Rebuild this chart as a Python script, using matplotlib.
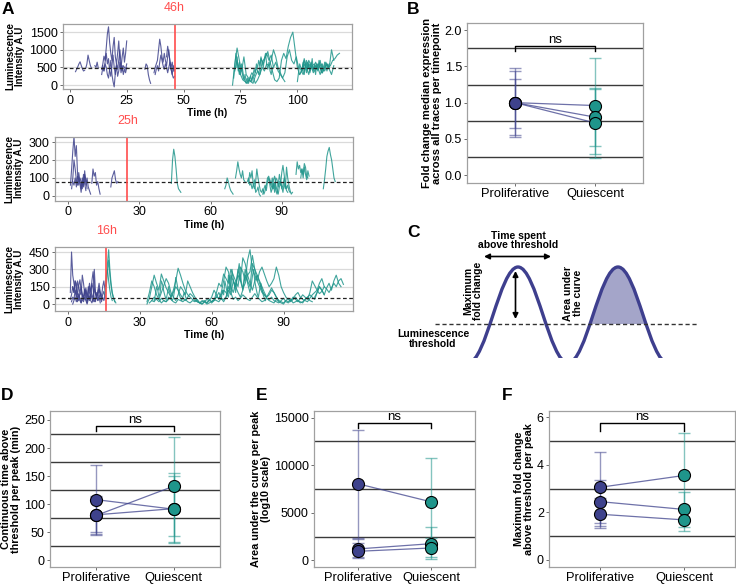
import numpy as np
import matplotlib
matplotlib.use("Agg")
import matplotlib.pyplot as plt
import matplotlib.patches as mpatches
from matplotlib.path import Path

plt.rcParams['font.family'] = ['Liberation Sans', 'DejaVu Sans']

NAVY = "#3E428C"
TEAL = "#1F958B"
RED = "#FF4D4D"

# ---------------- panel A data: (start hour, step hour, values) ----------------
a1_prolif = [
    (2.5, 0.5, [380, 450, 520, 600, 660, 560, 470, 400, 420]),
    (7.0, 0.5, [480, 600, 850, 700, 560, 480]),
    (11.0, 0.5, [550, 500, 650, 480]),
    (14.0, 0.5, [450, 600, 820, 700, 1050, 1450, 1650, 1200, 900, 700, 1100, 1350, 800, 600, 900, 1250, 700, 500, 800, 1050, 650, 900, 1250]),
    (14.0, 0.5, [300, 500, 400, 650, 900, 600, 750, 400, 250, 550, 850, 500, 300, 600, 450, 700, 1000, 600, 400, 550, 500, 450, 600]),
    (14.5, 0.5, [550, 400, 600, 500, 300, 200, 450, 700, 300, 100, -50, 350, 550, 250, 400, 650, 350, 550, 300, 450, 350, 500]),
    (33.0, 0.5, [450, 600, 550, 300, 150, 50]),
    (37.0, 0.5, [350, 500, 600, 700, 1000, 1300, 1100, 800, 650, 900, 700, 550, 800, 1000, 600, 450, 300, 550, 400]),
    (37.5, 0.5, [300, 450, 550, 400, 650, 850, 700, 550, 450, 600, 500, 350, 500, 650, 450, 300, 200, 250]),
    (42.5, 0.5, [800, 1100, 900, 700, 500, 650, 400]),
]
a1_quies = [
    (71.5, 1.0, [0, 600, 1050, 700, 400, 800, 300, 200, 100, 50, 250, 400, 300, 650, 750, 900, 700, 850, 500, 650, 400, 300, 200, 350, 800, 1000, 700, 600, 800, 500, 450, 300, 500, 650, 400, 550, 600, 450, 500, 600, 400, 650, 500, 550, 700, 750, 850, 900]),
    (72.0, 1.0, [200, 900, 500, 300, 150, 100, 50, 200, 350, 250, 500, 300, 750, 600, 800, 950, 650, 400, 150, 100, 200, 700, 900, 750, 1100, 1350, 1500, 1000, 500, 300, 400, 600, 450, 700, 550, 350, 450, 600, 500, 350]),
    (72.5, 1.0, [400, 700, 300, 600, 200, 50, 150, 100, 250, 50, 150, 300, 500, 400, 600, 550, 700, 1000, 800, 500, 350, 200, 100]),
    (73.0, 0.5, [500, 800, 400, 650, 300, 500, 250, 150, 300, 100, 200, 50, 150, 250, 100, 300, 450, 350, 600, 500, 700, 550, 800, 650, 500, 750, 900, 600, 450, 650, 400, 300, 500]),
    (100.0, 1.0, [100, 600, 400, 750, 500, 300, 650, 450, 550, 400, 700, 350, 500, 600, 450, 300, 550]),
    (101.0, 1.0, [300, 450, 700, 350, 600, 500, 450, 650, 500, 300, 450, 400, 600, 500, 1000, 700]),
    (102.0, 0.5, [400, 650, 300, 550, 700, 450, 600, 350, 500, 750, 400, 550, 300, 600, 450, 700, 500, 350, 600, 450, 650, 500, 400, 550, 600]),
]
a2_prolif = [
    (1.0, 0.5, [60, 150, 250, 330, 220, 280, 120, 60, 100, 80, 40, 120, 70, 30]),
    (1.5, 0.5, [40, 100, 200, 150, 90, 60, 130, 80, 40, 100, 60, 120, 90, 40]),
    (2.0, 0.5, [80, 60, 100, 50, 110, 90, 70, 20, 80, 50, 140, 60, 100, 50, 30, 10]),
    (10.0, 0.5, [70, 150, 110, 130, 60, 80, 40, 10]),
    (18.0, 0.5, [50, 100, 120, 140, 90, 70, 80]),
]
a2_quies = [
    (43.5, 0.5, [70, 200, 260, 220, 150, 70, 40, 30, 20]),
    (66.0, 0.5, [40, 60, 100, 80, 50, 30, 20, 10]),
    (70.5, 0.5, [100, 140, 190, 150, 120, 100, 140, 90, 80]),
    (75.5, 0.5, [80, 100, 60, 70, 40, 60, 90, 20, 30, 50, 10, 0]),
    (76.0, 0.5, [70, 130, 100, 140, 60, 40, 80, 150, 100, 60, 30, 20, 40, 10, 30, 60, 100, 110, 80, 60, 40, 70, 20, 100, 90, 50, 80, 60, 130, 170, 120, 60, 30, 20]),
    (82.0, 0.5, [10, 40, 60, 30, 80, 100, 60, 20, 40, 90, 110, 60, 30, 10, 50, 80, 40, 60, 100, 70, 40, 60, 30, 20]),
    (85.0, 0.5, [90, 60, 100, 40, 70, 30, 10, 60, 120, 80, 50, 20, 70, 40, 160, 100, 60, 30, 10, 20]),
    (96.0, 0.5, [120, 190, 150, 170, 130, 150, 100, 160, 120, 90, 140, 110]),
    (98.0, 0.5, [100, 150, 120, 180, 160, 110, 100]),
    (107.5, 0.5, [40, 90, 150, 220, 250, 270, 230, 200, 150, 100, 80]),
]
a3_prolif = [
    (1.0, 0.5, [100, 450, 250, 180, 120, 60, 200, 150, 100, 80, 250, 180, 90, 120, 60, 150, 100, 50, 200, 280, 150, 90, 60, 120, 180, 100, 60, 150, 200, 120]),
    (1.0, 0.5, [40, 80, 150, 100, 200, 180, 60, 30, 100, 150, 90, 40, 120, 80, 30, 60, 150, 100, 180, 130, 50, 20, 100, 70, 130, 90, 40, 80, 110, 60]),
    (1.5, 0.5, [20, 60, 40, 120, 70, 20, 90, 50, 10, 80, 60, 130, 40, 10, 70, 30, 90, 50, 20, 300, 100, 60, 30, 80, 50, 20, 60, 30, 70]),
    (2.0, 0.5, [150, 100, 200, 130, 80, 160, 210, 120, 70, 40, 90, 140, 60, 100, 180, 120, 80, 50, 130, 90, 60, 100, 140, 70]),
    (2.0, 0.5, [0, 30, 60, 20, 50, 80, 30, 10, 40, 20, 60, 30, 0, 40, 70, 30, 10, 50, 20, 40, 80, 30, 60, 10]),
]
a3_quies = [
    (15.5, 0.5, [80, 200, 350, 470, 300, 180, 100, 60, 20]),
    (16.0, 0.5, [150, 280, 380, 250, 160, 90, 50, 30, 10]),
    (15.5, 0.5, [100, 250, 300, 200, 120, 60, 30]),
    (33.0, 1.0, [0, 50, 150, 250, 180, 120, 260, 200, 140, 100, 60, 120, 200, 310, 250, 180, 120, 80, 60, 40, 30, 20, 10, 20, 30, 10, 40, 20, 30, 100, 180, 150, 260, 220, 180, 300, 250, 200, 150, 320, 280, 200, 380, 470, 300, 250, 200, 280, 320, 260, 200, 150, 180, 220, 320, 250, 150, 100, 60, 40, 30, 50, 80, 100, 60, 40, 30, 20, 50, 80, 100, 120, 90, 110, 150, 130, 100, 140, 180, 150, 200, 220, 170]),
    (33.0, 1.0, [20, 100, 200, 150, 80, 40, 100, 160, 220, 180, 100, 60, 30, 80, 150, 120, 80, 200, 150, 100, 60, 30, 10, 0, 20, 40, 30, 60, 120, 80, 40, 100, 200, 320, 280, 150, 100, 180, 250, 200, 400, 350, 250, 180, 120, 200, 250, 180, 120, 80, 60, 100, 140, 100, 60, 30, 20, 10, 30, 50, 20, 40, 60, 30, 10, 20, 40, 60, 80, 60, 40, 100, 150, 120, 80]),
    (34.0, 1.0, [10, 30, 60, 40, 20, 50, 30, 20, 40, 60, 100, 150, 120, 80, 50, 30, 60, 90, 70, 40, 20, 10, 30, 20, 0, 10, 20, 40, 60, 50, 80, 120, 100, 60, 250, 200, 150, 300, 200, 130, 180, 250, 280, 420, 300, 200, 150, 100, 80, 50, 40, 60, 30, 20, 10, 30, 50, 20, 10, 30, 60, 40, 20, 50, 80, 60, 40, 100, 200, 160, 120, 180, 220, 150]),
    (35.0, 1.0, [30, 20, 50, 40, 10, 30, 20, 60, 40, 20, 10, 40, 30, 20, 40, 20, 10, 30, 20, 40, 10, 0, 20, 10, 30, 20, 40, 30, 20, 50, 40, 60, 150, 100, 40, 60, 30, 50, 80, 60, 40, 30, 60, 90, 60, 40, 20, 30, 50, 30, 20, 10, 40, 20, 10, 0, 30, 20, 40, 10, 20, 30, 20, 10, 40, 60, 30, 20]),
    (60.0, 1.0, [10, 30, 60, 100, 50, 20, 60, 120, 80, 200, 150, 100, 60, 120, 250, 200, 150, 350, 300, 250, 200, 150, 100, 60, 80, 120, 100, 60, 30]),
    (64.0, 0.5, [40, 120, 80, 200, 150, 90, 250, 180, 120, 300, 220, 160, 100, 200, 280, 350, 250, 180, 120, 220, 300, 260, 180, 140, 100, 160, 240, 300, 200, 140, 90, 60, 120, 180, 130, 80, 50, 30]),
    (36.0, 0.5, [30, 80, 150, 120, 60, 100, 200, 170, 110, 70, 40, 90, 150, 100, 60, 30, 50, 120, 230, 180, 120, 80, 50, 30, 60, 100, 70, 40]),
    (103.0, 1.0, [60, 100, 150, 120, 80, 140, 180, 120, 200, 250, 180, 150]),
]
a_thresholds = [480, 80, 55]
a_switch = [46, 25, 16]
a_ylims = [(-110, 1730), (-26, 328), (-60, 496)]
a_xlims = [(-3, 124), (-5.5, 120), (-5.4, 119)]
a_yticks = [[0, 500, 1000, 1500], [0, 100, 200, 300], [0, 150, 300, 450]]
a_xticks = [[0, 25, 50, 75, 100], [0, 30, 60, 90], [0, 30, 60, 90]]

# ---------------- summary panels ----------------
groups = ["Proliferative", "Quiescent"]

b_prolif = [1.0, 1.0, 1.0]
b_quies = [0.96, 0.80, 0.72]
b_prolif_err = [[0.52, 1.48], [0.55, 1.44], [0.65, 1.33]]
b_quies_err = [[0.29, 1.62], [0.40, 1.20], [0.24, 1.19]]

d_prolif = [108, 80, 81]
d_quies = [91, 132, 92]
d_prolif_err = [[50, 170], [45, 115], [47, 112]]
d_quies_err = [[32, 155], [44, 220], [30, 150]]

e_prolif = [8050, 1200, 950]
e_quies = [6150, 1750, 1300]
e_prolif_err = [[2400, 13700], [300, 2200], [200, 1800]]
e_quies_err = [[1500, 10800], [100, 3500], [300, 2400]]

f_prolif = [3.05, 2.45, 1.92]
f_quies = [3.55, 2.12, 1.68]
f_prolif_err = [[1.55, 4.55], [1.42, 3.35], [1.35, 2.6]]
f_quies_err = [[1.75, 5.35], [1.38, 2.85], [1.2, 2.2]]

W, H = 736, 585
fig = plt.figure(figsize=(W / 100, H / 100), dpi=100)


def rect(x0, y0, x1, y1):
    return [x0 / W, 1 - y1 / H, (x1 - x0) / W, (y1 - y0) / H]


def draw_traces(ax, traces, color):
    for t0, dt, vals in traces:
        t = t0 + dt * np.arange(len(vals))
        ax.plot(t, vals, color=color, lw=0.8, alpha=0.85)


a_boxes = [(63, 24, 352, 89), (55, 137, 353, 200.6), (55, 246.7, 353, 311)]
a_data = [(a1_prolif, a1_quies), (a2_prolif, a2_quies), (a3_prolif, a3_quies)]
for i in range(3):
    ax = fig.add_axes(rect(*a_boxes[i]))
    draw_traces(ax, a_data[i][0], NAVY)
    draw_traces(ax, a_data[i][1], TEAL)
    ax.axhline(a_thresholds[i], color="#222222", ls=(0, (3, 2)), lw=0.9)
    ax.axvline(a_switch[i], color=RED, lw=1.2)
    ax.annotate(f"{a_switch[i]}h", xy=(a_switch[i], 1.0), xycoords=("data", "axes fraction"),
                xytext=(0, 7), textcoords="offset points", ha="center", va="bottom",
                color=RED, fontsize=9)
    ax.set_xlim(*a_xlims[i])
    ax.set_ylim(*a_ylims[i])
    ax.set_yticks(a_yticks[i])
    ax.set_xticks(a_xticks[i])
    ax.grid(axis="y", color="#DADADA", lw=0.9)
    ax.set_axisbelow(True)
    for s in ax.spines.values():
        s.set_color("#A0A0A0")
        s.set_linewidth(0.9)
    ax.tick_params(labelsize=9, length=2.5, width=0.6, color="#555555", pad=1.5)
    ax.set_xlabel("Time (h)", fontsize=7.5, fontweight="bold", labelpad=1)
    ax.set_ylabel("Luminescence\nIntensity A.U", fontsize=7, fontweight="bold",
                  labelpad=3, linespacing=1.0)


def summary(ax, prolif, quies, prolif_err, quies_err, ylim, yticks, minor,
            bracket, ylabel, fmt=None, ylab_size=8):
    for k in range(len(prolif)):
        lo, hi = prolif_err[k]
        ax.errorbar([1], [prolif[k]], yerr=[[prolif[k] - lo], [hi - prolif[k]]],
                    color=NAVY, alpha=0.55, lw=1, capsize=4, capthick=1, fmt="none")
        lo, hi = quies_err[k]
        ax.errorbar([2], [quies[k]], yerr=[[quies[k] - lo], [hi - quies[k]]],
                    color=TEAL, alpha=0.55, lw=1, capsize=4, capthick=1, fmt="none")
    for k in range(len(prolif)):
        ax.plot([1, 2], [prolif[k], quies[k]], color=NAVY, lw=0.9, alpha=0.75, zorder=3)
    ax.scatter([1] * len(prolif), prolif, s=75, color=NAVY, edgecolor="black", lw=0.8, zorder=4)
    ax.scatter([2] * len(quies), quies, s=75, color=TEAL, edgecolor="black", lw=0.8, zorder=4)
    # significance bracket
    top, tick = bracket
    ax.plot([1, 1, 2, 2], [tick, top, top, tick], color="black", lw=1, zorder=5)
    ax.text(1.5, top, "ns", ha="center", va="bottom", fontsize=9.5)
    ax.set_xlim(0.4, 2.6)
    ax.set_ylim(*ylim)
    ax.set_xticks([1, 2])
    ax.set_xticklabels(groups)
    ax.set_yticks(yticks)
    if fmt:
        ax.set_yticklabels([fmt.format(v) for v in yticks])
    ax.set_yticks(minor, minor=True)
    ax.grid(which="minor", axis="y", color="#3A3A3A", lw=1)
    ax.tick_params(which="minor", length=0)
    ax.tick_params(which="major", labelsize=9, length=2.5, width=0.6, color="#555555", pad=1.2)
    ax.tick_params(axis="x", labelsize=9.3, labelcolor="black", pad=0.8)
    for s in ax.spines.values():
        s.set_color("#A0A0A0")
        s.set_linewidth(0.9)
    ax.set_ylabel(ylabel, fontsize=ylab_size, fontweight="bold", linespacing=1.0, labelpad=2)


axB = fig.add_axes(rect(467, 23, 643, 183))
summary(axB, b_prolif, b_quies, b_prolif_err, b_quies_err, (-0.11, 2.1),
        [0, 0.5, 1.0, 1.5, 2.0], [0.25, 0.75, 1.25, 1.75], (1.78, 1.71),
        "Fold change median expression\nacross all traces per timepoint", fmt="{:.1f}")

axD = fig.add_axes(rect(50, 411, 220, 567))
summary(axD, d_prolif, d_quies, d_prolif_err, d_quies_err, (-12, 266),
        [0, 50, 100, 150, 200, 250], [25, 75, 125, 175, 225], (239, 231),
        "Continuous time above\nthreshold per peak (min)", ylab_size=7.8)

axE = fig.add_axes(rect(314, 411, 475, 567))
summary(axE, e_prolif, e_quies, e_prolif_err, e_quies_err, (-700, 15700),
        [0, 5000, 10000, 15000], [2500, 7500, 12500], (14400, 13900),
        "Area under the curve per peak\n(log10 scale)", ylab_size=7.8)

axF = fig.add_axes(rect(549, 411, 735, 567))
summary(axF, f_prolif, f_quies, f_prolif_err, f_quies_err, (-0.3, 6.26),
        [0, 2, 4, 6], [1, 3, 5], (5.76, 5.43),
        "Maximum fold change\nabove threshold per peak", ylab_size=7.8)

# ---------------- panel C schematic (pixel coordinates) ----------------
axC = fig.add_axes(rect(380, 215, 720, 358))
axC.set_xlim(380, 720)
axC.set_ylim(358, 215)
axC.axis("off")

wave_x = [468, 518, 568, 618, 668]
wave_y = [363, 267, 363, 267, 363]
threshold_y = 324


def wave_path(xs, ys, k=0.3642):
    verts = [(xs[0], ys[0])]
    codes = [Path.MOVETO]
    for j in range(len(xs) - 1):
        h = xs[j + 1] - xs[j]
        verts += [(xs[j] + k * h, ys[j]), (xs[j + 1] - k * h, ys[j + 1]), (xs[j + 1], ys[j + 1])]
        codes += [Path.CURVE4] * 3
    return verts, codes


v, c = wave_path(wave_x[2:], wave_y[2:])
hump = mpatches.PathPatch(Path(v + [v[0]], c + [Path.CLOSEPOLY]), facecolor="#A4A5C9",
                          edgecolor="none")
axC.add_patch(hump)
hump.set_clip_path(mpatches.Rectangle((560, 200), 120, threshold_y - 200, transform=axC.transData))

axC.plot([435, 698], [threshold_y, threshold_y], color="#333333", ls=(0, (3, 2)), lw=1)
v, c = wave_path(wave_x, wave_y)
axC.add_patch(mpatches.PathPatch(Path(v, c), facecolor="none", edgecolor="#3E3F8E", lw=2.4))

axC.annotate("", xy=(484, 256.5), xytext=(551, 256.5),
             arrowprops=dict(arrowstyle="<|-|>", color="black", lw=1.2, mutation_scale=8,
                             shrinkA=0, shrinkB=0))
axC.annotate("", xy=(515.5, 271), xytext=(515.5, 319),
             arrowprops=dict(arrowstyle="<|-|>", color="black", lw=1.2, mutation_scale=8,
                             shrinkA=0, shrinkB=0))
axC.text(518, 240.5, "Time spent\nabove threshold", ha="center", va="center", fontsize=7.5,
         fontweight="bold", linespacing=0.95)
axC.text(473, 291, "Maximum\nfold change", ha="center", va="center", rotation=90,
         fontsize=7.5, fontweight="bold", linespacing=0.95)
axC.text(573, 293, "Area under\nthe curve", ha="center", va="center", rotation=90,
         fontsize=7.5, fontweight="bold", linespacing=0.95)
axC.text(433, 339, "Luminescence\nthreshold", ha="center", va="center", fontsize=7.5,
         fontweight="bold", linespacing=1.05)

# panel letters
for letter, (x, y) in {"A": (8, 9), "B": (413, 9), "C": (413, 233), "D": (7, 395),
                       "E": (262, 395), "F": (507, 395)}.items():
    fig.text(x / W, 1 - y / H, letter, fontsize=12.5, fontweight="bold", ha="center", va="center")

fig.savefig("out.png", dpi=100)
